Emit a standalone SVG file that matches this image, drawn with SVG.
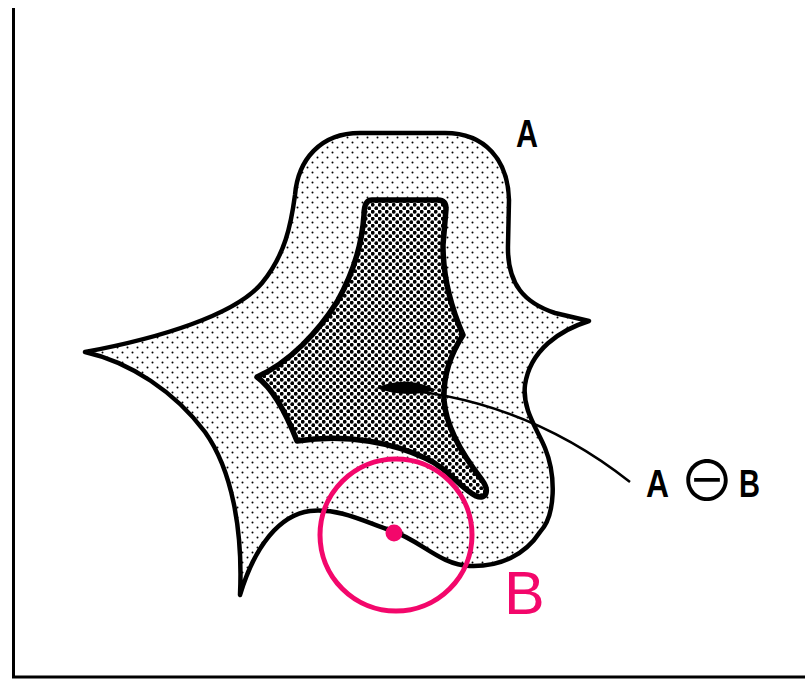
<svg xmlns="http://www.w3.org/2000/svg" width="805" height="680" viewBox="0 0 805 680">
<defs>
<style>
.frame{stroke:#000;stroke-width:3;fill:none}
.outer{fill:url(#light);stroke:#000;stroke-width:4.5;stroke-linejoin:round}
.inner{fill:url(#dark);stroke:#000;stroke-width:5.5;stroke-linejoin:round}
.lbl{font-family:"Liberation Sans",Arial,sans-serif;font-weight:bold;font-size:39px;fill:#000}
.op{font-family:"Noto Sans CJK JP","DejaVu Sans",sans-serif;font-weight:normal;font-size:56px}
.pink{stroke:#f3076b;fill:none;stroke-width:5}
.leader{stroke:#000;stroke-width:2.5;fill:none}
</style>
<pattern id="light" width="10" height="10" patternUnits="userSpaceOnUse">
<rect width="10" height="10" fill="#fff"/>
<circle cx="2.5" cy="2.5" r="1" fill="#000"/>
<circle cx="7.5" cy="7.5" r="1" fill="#000"/>
</pattern>
<pattern id="dark" width="7" height="7" patternUnits="userSpaceOnUse">
<rect width="7" height="7" fill="#fff"/>
<circle cx="1.75" cy="1.75" r="1.9" fill="#000"/>
<circle cx="5.25" cy="5.25" r="1.9" fill="#000"/>
</pattern>
</defs>
<rect width="805" height="680" fill="#fff"/>
<g id="frame">
<path class="frame" d="M13.5,8 V677 H805"/>
</g>
<g id="shape-A">
<path class="outer" d="M85,352 C160,338 235,315 262,283 C285,255 291,225 295,195 C298,160 320,133 360,133 L445,133 C485,133 508,160 509,200 L508,245 C507,285 525,303 555,313 L589,321 C560,330 530,350 525,385 C522,410 538,430 545,448 C556,475 556,515 540,532 C525,555 500,567 470,566 C440,565 420,540 392,531 C365,522 340,508 310,511 C280,515 255,545 240,595 C243,530 232,470 205,432 C175,392 130,362 85,352 Z"/>
<text class="lbl" x="516" y="147" textLength="22" lengthAdjust="spacingAndGlyphs">A</text>
</g>
<g id="shape-A-minus-B">
<path class="inner" d="M372,200 L438,200 Q446,200 446,209 L443,245 C443,275 450,305 463,335 C450,355 443,375 444,400 C446,430 468,462 482,480 C490,491 486,500 476,496 C460,488 448,468 425,458 C395,444 350,433 297,441 C288,418 275,390 257,377 C290,362 318,332 337,302 C354,272 362,245 364,215 Q364,200 372,200 Z"/>
<path d="M376,388 C395,380 415,379 436,390 C415,396 395,395 376,388 Z" fill="#000"/>
<text class="lbl" y="497"><tspan x="646" textLength="23" lengthAdjust="spacingAndGlyphs">A</tspan><tspan class="op" x="679" y="501">⊖</tspan><tspan x="739" y="497" textLength="21" lengthAdjust="spacingAndGlyphs">B</tspan></text>
</g>
<g id="structuring-element-B">
<circle class="pink" cx="396" cy="535" r="76"/>
<circle cx="394" cy="533" r="8.5" fill="#f3076b"/>
<text x="504" y="614" font-family="'Liberation Sans',Arial,sans-serif" font-size="61" fill="#f3076b">B</text>
</g>
<g id="connectors">
<path class="leader" d="M380,388 Q520,395 630,482"/>
</g>
</svg>
